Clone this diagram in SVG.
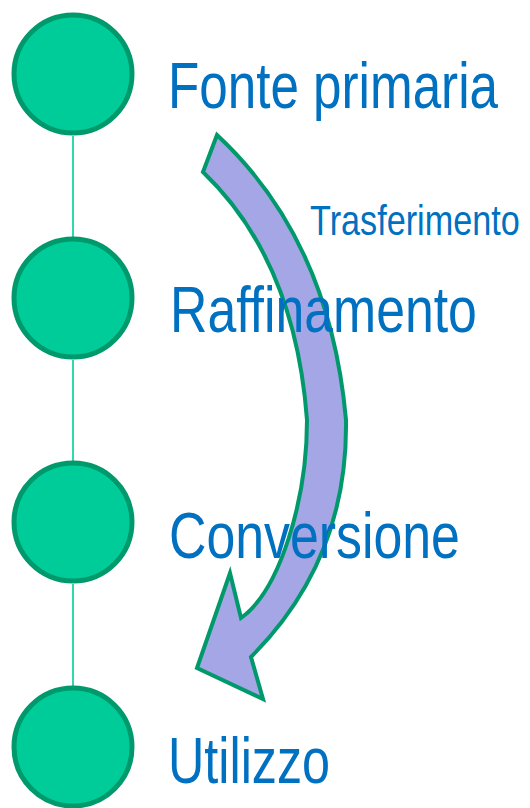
<svg xmlns="http://www.w3.org/2000/svg" width="530" height="808" viewBox="0 0 530 808">
<style>
.node circle{fill:#00CC99;stroke:#00996B;stroke-width:5}
.lbl{font-family:"Liberation Sans",Arial,sans-serif;fill:#0070C0}
.big{font-size:64px}
.small{font-size:42px}
.link{stroke:#00CC99;stroke-width:1.6}
</style>
<rect width="530" height="808" fill="#ffffff"/>
<g id="connectors">
<line class="link" x1="73" y1="136" x2="73" y2="238"/>
<line class="link" x1="73" y1="360" x2="73" y2="462"/>
<line class="link" x1="73" y1="584" x2="73" y2="686"/>
</g>
<g id="arrow-trasferimento">
<path d="M217,135 Q330,240 346,420 Q348,560 251,657 L263,699 L197,668 L230,573 L241,618 C280,590 307,500 307,420 Q295,260 203,172 Z" fill="#A4A6E6" stroke="#00996B" stroke-width="4" stroke-linejoin="miter"/>
<text class="lbl small" transform="matrix(0.815,0,0,1,310,235)">Trasferimento</text>
</g>
<g id="node-fonte" class="node">
<circle cx="73" cy="74" r="59"/>
<text class="lbl big" transform="matrix(0.8,0,0,1,168,108)">Fonte primaria</text>
</g>
<g id="node-raffinamento" class="node">
<circle cx="73" cy="298" r="59"/>
<text class="lbl big" transform="matrix(0.809,0,0,1,170,332)">Raffinamento</text>
</g>
<g id="node-conversione" class="node">
<circle cx="73" cy="522" r="59"/>
<text class="lbl big" transform="matrix(0.81,0,0,1,169,558)">Conversione</text>
</g>
<g id="node-utilizzo" class="node">
<circle cx="73" cy="747" r="59"/>
<text class="lbl big" transform="matrix(0.786,0,0,1,168,783)">Utilizzo</text>
</g>
</svg>
